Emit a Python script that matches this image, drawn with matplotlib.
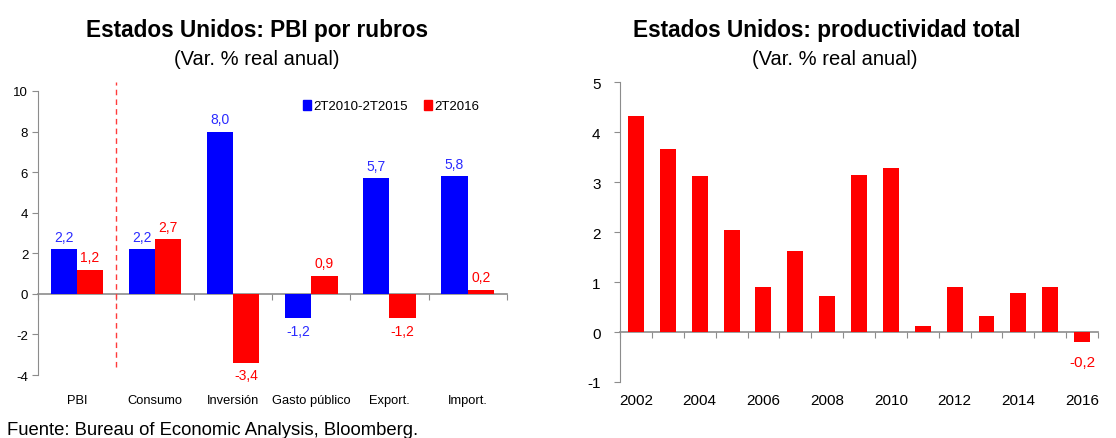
import matplotlib
matplotlib.use("Agg")
import matplotlib.pyplot as plt
from matplotlib import font_manager
from matplotlib.patches import Patch

# ---------------- data ----------------
rubros = ["PBI", "Consumo", "Inversión", "Gasto público", "Export.", "Import."]
serie_2010_2015 = [2.2, 2.2, 8.0, -1.2, 5.7, 5.8]
serie_2016 = [1.2, 2.7, -3.4, 0.9, -1.2, 0.2]
leyenda = ["2T2010-2T2015", "2T2016"]

anios = [2002, 2003, 2004, 2005, 2006, 2007, 2008, 2009, 2010, 2011, 2012, 2013, 2014, 2015, 2016]
productividad = [4.32, 3.66, 3.13, 2.05, 0.91, 1.63, 0.73, 3.15, 3.28, 0.12, 0.91, 0.33, 0.78, 0.91, -0.19]

titulo_izq = "Estados Unidos: PBI por rubros"
titulo_der = "Estados Unidos: productividad total"
subtitulo = "(Var. % real anual)"
fuente = "Fuente: Bureau of Economic Analysis, Bloomberg."

# ---------------- fonts ----------------
names = {f.name for f in font_manager.fontManager.ttflist}
REG = "Liberation Sans" if "Liberation Sans" in names else "DejaVu Sans"
if "Liberation Sans Narrow" in names:
    NAR = "Liberation Sans Narrow"
    s_title, s_sub, s_tick, s_cat, s_lab, s_leg = 19.5, 15.5, 10.5, 10.5, 11.5, 11
else:
    NAR = REG
    s_title, s_sub, s_tick, s_cat, s_lab, s_leg = 16.3, 14.5, 9.5, 9.3, 10, 9.5

plt.rcParams["font.family"] = [REG, "DejaVu Sans"]
plt.rcParams["axes.unicode_minus"] = False

BLUE = "#0000FF"
RED = "#FF0000"
BLUE_TXT = "#2B2BFF"
GRAY = "#8C8C8C"

def fmt(v):
    return f"{v:.1f}".replace(".", ",")

fig = plt.figure(figsize=(11.16, 4.39), dpi=100)

# ================= left chart =================
ax1 = fig.add_axes([0.034, 0.1435, 0.420, 0.647])
n = len(rubros)
x = list(range(n))
w = 0.335
b1 = ax1.bar([i - w / 2 for i in x], serie_2010_2015, width=w, color=BLUE)
b2 = ax1.bar([i + w / 2 for i in x], serie_2016, width=w, color=RED)
ax1.set_xlim(-0.5, n - 0.5)
ax1.set_ylim(-4, 10)
ax1.set_yticks(range(-4, 11, 2))
ax1.set_yticklabels([str(v) for v in range(-4, 11, 2)], fontfamily=NAR, fontsize=s_tick)
ax1.set_xticks(x)
ax1.set_xticklabels(rubros, fontfamily=NAR, fontsize=s_cat)
ax1.tick_params(axis="x", length=0, pad=14)
ax1.tick_params(axis="y", direction="out", length=4, color=GRAY, pad=3)
for s in ["top", "right", "bottom"]:
    ax1.spines[s].set_visible(False)
ax1.spines["left"].set_color(GRAY)
sec1 = ax1.secondary_xaxis(4 / 14)
sec1.set_xticks([i - 0.5 for i in range(n + 1)])
sec1.set_xticklabels([])
sec1.tick_params(direction="out", length=4, color=GRAY)
sec1.spines["bottom"].set_color(GRAY)
sec1.spines["bottom"].set_linewidth(1.2)

for bars, vals, col in [(b1, serie_2010_2015, BLUE_TXT), (b2, serie_2016, RED)]:
    for r, v in zip(bars, vals):
        xc = r.get_x() + r.get_width() / 2
        if v >= 0:
            ax1.annotate(fmt(v), (xc, v), xytext=(0, 4), textcoords="offset points",
                         ha="center", va="bottom", color=col, fontsize=s_lab, fontfamily=NAR)
        else:
            ax1.annotate(fmt(v), (xc, v), xytext=(0, -4), textcoords="offset points",
                         ha="center", va="top", color=col, fontsize=s_lab, fontfamily=NAR)

ax1.plot([0.5, 0.5], [-3.6, 10.45], color="#FF3B3B", lw=1, ls=(0, (4, 3)), clip_on=False)

ax1.legend([Patch(color=BLUE), Patch(color=RED)], leyenda, ncol=2, frameon=False,
           loc="center left", bbox_to_anchor=(0.565, 0.947), handlelength=0.6,
           handleheight=0.8, handletextpad=0.2, columnspacing=1.2,
           prop={"family": NAR, "size": s_leg}, borderaxespad=0, borderpad=0)

# ================= right chart =================
ax2 = fig.add_axes([0.5556, 0.1276, 0.4283, 0.683])
m = len(anios)
xr = list(range(m))
br = ax2.bar(xr, productividad, width=0.5, color=RED)
ax2.set_xlim(-0.5, m - 0.5)
ax2.set_ylim(-1, 5)
ax2.set_yticks(range(-1, 6))
ax2.set_yticklabels([str(v) for v in range(-1, 6)], fontsize=11)
ax2.set_xticks(xr[::2])
ax2.set_xticklabels([str(a) for a in anios[::2]], fontsize=11)
ax2.tick_params(axis="x", length=0, pad=8)
ax2.tick_params(axis="y", direction="out", length=4, color=GRAY, pad=10)
for s in ["top", "right", "bottom"]:
    ax2.spines[s].set_visible(False)
ax2.spines["left"].set_color(GRAY)
sec2 = ax2.secondary_xaxis(1 / 6)
sec2.set_xticks([i - 0.5 for i in range(m + 1)])
sec2.set_xticklabels([])
sec2.tick_params(direction="out", length=4, color=GRAY)
sec2.spines["bottom"].set_color(GRAY)
sec2.spines["bottom"].set_linewidth(1.2)

for r, v in zip(br, productividad):
    if v < 0:
        ax2.annotate(fmt(v), (r.get_x() + r.get_width() / 2, v), xytext=(0, -10),
                     textcoords="offset points", ha="center", va="top", color=RED, fontsize=11)

# ================= titles & footer =================
fig.text(0.230, 0.916, titulo_izq, ha="center", va="baseline", fontsize=s_title,
         fontweight="bold", fontfamily=NAR)
fig.text(0.230, 0.852, subtitulo, ha="center", va="baseline", fontsize=s_sub, fontfamily=NAR)
fig.text(0.741, 0.916, titulo_der, ha="center", va="baseline", fontsize=s_title,
         fontweight="bold", fontfamily=NAR)
fig.text(0.748, 0.852, subtitulo, ha="center", va="baseline", fontsize=s_sub, fontfamily=NAR)
fig.text(0.006, 0.010, fuente, ha="left", va="baseline", fontsize=13.3)

fig.savefig("out.png", dpi=100)
